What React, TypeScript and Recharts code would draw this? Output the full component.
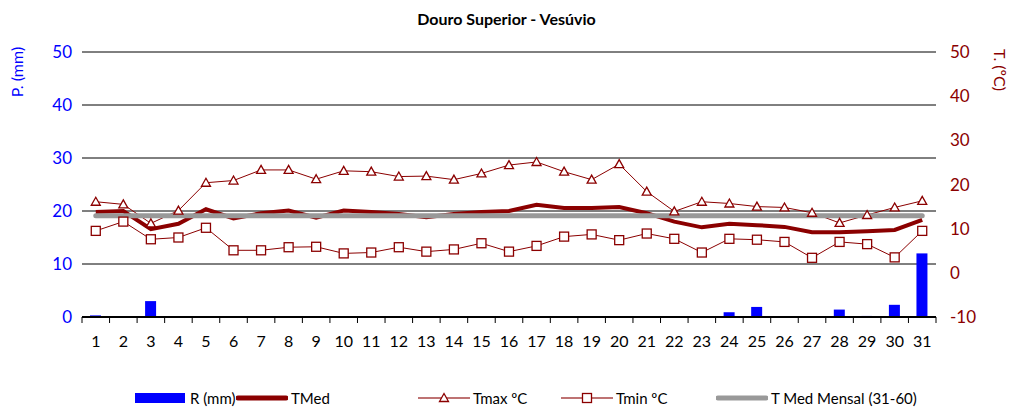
import React from "react";
import {
  ComposedChart,
  Bar,
  Line,
  XAxis,
  YAxis,
  CartesianGrid,
  Legend,
} from "recharts";

const days = Array.from({ length: 31 }, (_, i) => String(i + 1));

const rain = [0.3, 0, 3.0, 0, 0, 0, 0, 0, 0, 0, 0, 0, 0, 0, 0, 0, 0, 0, 0, 0, 0, 0, 0, 0.9, 1.9, 0, 0, 1.4, 0.2, 2.3, 12.0];

const tMed = [13.8, 14.0, 9.9, 11.1, 14.4, 12.3, 13.5, 14.1, 12.5, 14.1, 13.8, 13.3, 12.6, 13.3, 13.8, 14.0, 15.4, 14.7, 14.7, 14.9, 13.5, 11.6, 10.3, 11.1, 10.8, 10.4, 9.2, 9.2, 9.4, 9.7, 12.0];

const tMax = [16.1, 15.5, 11.2, 14.1, 20.4, 20.9, 23.3, 23.3, 21.2, 23.1, 22.9, 21.8, 21.9, 21.1, 22.5, 24.4, 25.1, 22.9, 21.1, 24.6, 18.4, 13.9, 16.1, 15.7, 15.0, 14.8, 13.6, 11.3, 13.1, 14.8, 16.3];

const tMin = [9.5, 11.6, 7.6, 8.0, 10.2, 5.1, 5.1, 5.8, 5.9, 4.4, 4.6, 5.8, 4.8, 5.3, 6.7, 4.8, 6.1, 8.2, 8.7, 7.4, 8.9, 7.7, 4.6, 7.7, 7.5, 7.0, 3.4, 7.0, 6.5, 3.5, 9.5];

const tMedMensal = 12.9;

const leftTicks = [0, 10, 20, 30, 40, 50];
const rightTicks = [-10, 0, 10, 20, 30, 40, 50];

const data = days.map((d, i) => ({
  day: d,
  rain: rain[i],
  tMed: tMed[i],
  tMax: tMax[i],
  tMin: tMin[i],
  mensal: tMedMensal,
}));

const FONT = "Lato, 'Open Sans', sans-serif";
const RED = "#8B0000";
const BLUE = "#0000FF";
const GRAY = "#999999";

const W = 1013;
const H = 409;
const LEGEND_H = 22;
const M = { top: 52, right: 0, bottom: 0, left: 0 };
const X_AXIS_H = 92 - LEGEND_H;
const LEFT_W = 82;
const RIGHT_W = 77;
const HALF_BAND = (W - LEFT_W - RIGHT_W) / days.length / 2;

const XTick = (props: any) => {
  const { x, y, payload, index } = props;
  return (
    <g>
      <line x1={x - HALF_BAND} x2={x - HALF_BAND} y1={y} y2={y + 6} stroke="#000" strokeWidth={1} />
      {index === days.length - 1 && (
        <line x1={x + HALF_BAND} x2={x + HALF_BAND} y1={y} y2={y + 6} stroke="#000" strokeWidth={1} />
      )}
      <text x={x} y={y + 30} textAnchor="middle" fontSize={16} fontFamily={FONT} fill="#000">
        {payload.value}
      </text>
    </g>
  );
};

const Triangle = (props: any) => {
  const { cx, cy } = props;
  if (cx == null || cy == null) return null;
  return (
    <path
      d={`M${cx},${cy - 4.5} L${cx + 4.5},${cy + 3.5} L${cx - 4.5},${cy + 3.5} Z`}
      fill="#fff"
      stroke={RED}
      strokeWidth={1.3}
    />
  );
};

const Square = (props: any) => {
  const { cx, cy } = props;
  if (cx == null || cy == null) return null;
  return <rect x={cx - 4.5} y={cy - 4.5} width={9} height={9} fill="#fff" stroke={RED} strokeWidth={1.3} />;
};

const legendItems = [
  { label: "R (mm)", x: 135, kind: "bar" },
  { label: "TMed", x: 236, kind: "thick" },
  { label: "Tmax ºC", x: 418, kind: "tri" },
  { label: "Tmin ºC", x: 561, kind: "sq" },
  { label: "T Med Mensal (31-60)", x: 716, kind: "gray" },
];

const LegendContent = () => (
  <div style={{ position: "relative", width: W, height: LEGEND_H, fontFamily: FONT, fontSize: 15 }}>
    {legendItems.map((it) => (
      <div key={it.label} style={{ position: "absolute", left: it.x, top: 0, display: "flex", alignItems: "center" }}>
        <svg width={52} height={20}>
          {it.kind === "bar" && <rect x={0} y={5} width={50} height={10} fill={BLUE} />}
          {it.kind === "thick" && <line x1={2} x2={50} y1={10} y2={10} stroke={RED} strokeWidth={5} strokeLinecap="round" />}
          {it.kind === "gray" && <line x1={2} x2={50} y1={10} y2={10} stroke={GRAY} strokeWidth={5} strokeLinecap="round" />}
          {(it.kind === "tri" || it.kind === "sq") && (
            <>
              <line x1={0} x2={52} y1={10} y2={10} stroke="#A84444" strokeWidth={1.5} />
              {it.kind === "tri" ? <Triangle cx={26} cy={10} /> : <Square cx={26} cy={10} />}
            </>
          )}
        </svg>
        <span style={{ marginLeft: 3, color: "#000", whiteSpace: "nowrap" }}>{it.label}</span>
      </div>
    ))}
  </div>
);

export default function App() {
  return (
    <div style={{ position: "absolute", left: 0, top: 0, width: W, height: H, background: "#fff" }}>
      <div
        style={{
          position: "absolute",
          top: 9,
          width: W,
          textAlign: "center",
          fontFamily: FONT,
          fontWeight: 700,
          fontSize: 16,
        }}
      >
        Douro Superior - Vesúvio
      </div>
      <div
        style={{
          position: "absolute",
          left: 16,
          top: 72,
          transform: "translate(-50%, -50%) rotate(-90deg)",
          fontFamily: FONT,
          fontSize: 16,
          color: BLUE,
          whiteSpace: "nowrap",
        }}
      >
        P. (mm)
      </div>
      <div
        style={{
          position: "absolute",
          left: 1000,
          top: 70,
          transform: "translate(-50%, -50%) rotate(90deg)",
          fontFamily: FONT,
          fontSize: 16,
          color: RED,
          whiteSpace: "nowrap",
        }}
      >
        T. (ºC)
      </div>
      <ComposedChart width={W} height={H} data={data} margin={M} style={{ position: "absolute", left: 0, top: 0 }}>
        <CartesianGrid yAxisId="left" vertical={false} stroke="#000" strokeWidth={1} />
        <XAxis
          dataKey="day"
          interval={0}
          tick={<XTick />}
          tickLine={false}
          tickSize={0}
          tickMargin={0}
          axisLine={{ stroke: "#000", strokeWidth: 2 }}
          height={X_AXIS_H}
        />
        <YAxis
          yAxisId="left"
          orientation="left"
          width={LEFT_W}
          domain={[0, 50]}
          ticks={leftTicks}
          axisLine={false}
          tickLine={false}
          tickSize={0}
          tickMargin={10}
          tick={{ fill: BLUE, fontSize: 17, fontFamily: FONT }}
        />
        <YAxis
          yAxisId="right"
          orientation="right"
          width={RIGHT_W}
          domain={[-10, 50]}
          ticks={rightTicks}
          axisLine={false}
          tickLine={false}
          tickSize={0}
          tickMargin={14}
          tick={{ fill: RED, fontSize: 17, fontFamily: FONT }}
        />
        <Bar yAxisId="left" dataKey="rain" fill={BLUE} barSize={11} isAnimationActive={false} />
        <Line
          yAxisId="right"
          dataKey="tMed"
          stroke={RED}
          strokeWidth={4}
          dot={false}
          isAnimationActive={false}
        />
        <Line
          yAxisId="right"
          dataKey="tMax"
          stroke={RED}
          strokeWidth={1}
          dot={<Triangle />}
          isAnimationActive={false}
        />
        <Line
          yAxisId="right"
          dataKey="tMin"
          stroke={RED}
          strokeWidth={1}
          dot={<Square />}
          isAnimationActive={false}
        />
        <Line
          yAxisId="right"
          dataKey="mensal"
          stroke={GRAY}
          strokeWidth={5}
          strokeLinecap="round"
          dot={false}
          isAnimationActive={false}
        />
        <Legend content={<LegendContent />} wrapperStyle={{ left: 0, top: 388, width: W }} />
      </ComposedChart>
    </div>
  );
}
